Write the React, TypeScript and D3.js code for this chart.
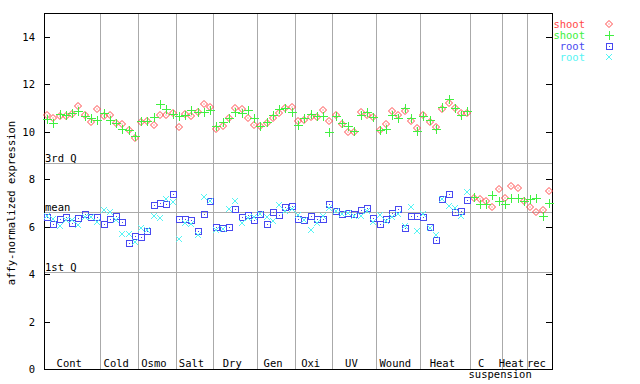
import React from "react";
import * as d3 from "d3";

const groups = ["Cont", "Cold", "Osmo", "Salt", "Dry", "Gen", "Oxi", "UV", "Wound", "Heat", "C suspension", "Heat", "rec"];
const groupSizes = [9, 6, 6, 6, 7, 6, 6, 7, 7, 8, 5, 4, 4];

const shoot1 = [
  10.72, 10.58, 10.66, 10.66, 10.75, 11.1, 10.69, 10.41, 10.97,
  10.66, 10.72, 10.38, 10.34, 10.07, 9.75,
  10.41, 10.46, 10.28, 10.72, 10.72, 10.79,
  10.2, 10.73, 10.66, 10.81, 11.17, 11.02,
  10.11, 10.22, 10.58, 11.01, 10.96, 10.58, 10.28,
  10.24, 10.38, 10.58, 10.77, 11.01, 11.05,
  10.46, 10.5, 10.62, 10.62, 10.91, 10.45,
  10.7, 10.32, 9.99, 9.99, 10.83, 10.7, 10.62,
  10.07, 10.32, 10.89, 10.72, 10.87, 10.45, 10.17,
  10.7, 10.41, 10.2, 10.97, 11.21, 11.0, 10.8, 10.8,
  7.21, 7.16, 7.08, 6.83, 7.59,
  7.21, 7.71, 7.63, 7.08,
  6.83, 6.62, 6.7, 7.5,
];
const shoot2 = [
  10.55, 10.37, 10.76, 10.72, 10.77, 10.89, 10.66, 10.59, 10.48,
  10.79, 10.5, 10.36, 10.11, 10.08, 9.8,
  10.46, 10.46, 10.63, 11.17, 10.96, 10.76,
  10.66, 10.69, 10.93, 10.84, 10.84, 10.9,
  10.25, 10.39, 10.58, 10.81, 10.77, 10.91, 10.58,
  10.22, 10.4, 10.69, 10.97, 11.01, 10.83,
  10.3, 10.58, 10.75, 10.66, 10.66, 9.99,
  10.66, 10.38, 10.22, 10.03, 10.7, 10.84, 10.62,
  10.07, 10.11, 10.72, 10.58, 11.01, 10.58, 10.03,
  10.66, 10.5, 10.11, 11.05, 11.38, 11.0, 10.7, 10.89,
  7.25, 6.95, 6.95, 7.33, 7.08,
  6.95, 7.21, 7.21, 7.08,
  7.16, 7.21, 6.45, 7.0,
];
const root1 = [
  6.41, 6.11, 6.32, 6.41, 6.15, 6.36, 6.53, 6.41, 6.41,
  6.11, 6.32, 6.45, 6.19, 5.31, 5.6,
  5.56, 5.82, 6.92, 7.0, 6.95, 7.37,
  6.32, 6.32, 6.28, 5.82, 6.53, 7.08,
  5.98, 5.94, 5.98, 6.74, 6.41, 6.49, 6.28,
  6.53, 6.11, 6.62, 6.49, 6.83, 6.87,
  6.32, 6.28, 6.45, 6.32, 6.32, 6.95,
  6.66, 6.53, 6.57, 6.53, 6.7, 6.78, 6.36,
  6.11, 6.32, 6.57, 6.74, 5.94, 6.45, 6.45,
  6.41, 5.98, 5.44, 7.16, 7.37, 6.62, 6.66, 7.12,
];
const root2 = [
  6.43, 6.33, 6.03, 6.28, 6.27, 6.07, 6.42, 6.41, 6.2,
  6.7, 6.62, 6.28, 5.69, 5.69, 5.35,
  5.94, 5.86, 6.45, 6.36, 7.16, 7.04,
  5.48, 6.15, 6.11, 5.65, 7.25, 7.08,
  5.86, 5.9, 6.74, 7.08, 6.15, 6.36, 6.41,
  6.53, 6.41, 6.24, 6.91, 6.66, 6.74,
  6.49, 6.28, 5.86, 6.15, 6.45, 6.78,
  6.66, 6.53, 6.57, 6.45, 6.45, 6.66, 6.19,
  6.49, 6.24, 6.41, 6.53, 6.03, 6.83, 5.82,
  6.53, 5.94, 5.65, 7.16, 6.87, 6.78, 6.45, 7.46,
];

const yTicks = [0, 2, 4, 6, 8, 10, 12, 14];
const refLines = [
  { label: "3rd Q", value: 8.68 },
  { label: "mean", value: 6.62 },
  { label: "1st Q", value: 4.09 },
];
const seriesNames = ["shoot", "shoot", "root", "root"];

const RED = "#ff4848";
const GREEN = "#40f040";
const BLUE = "#4848f0";
const CYAN = "#55f4f4";
const GRID = "#aaaaaa";
const FONT = "'DejaVu Sans Mono', monospace";

const W = 640, H = 384;
const L = 44, R = 552, T = 13, B = 369;

function Marker({ kind, x, y, color }: { kind: number; x: number; y: number; color: string }) {
  if (kind === 0) {
    return (
      <g>
        <path d={`M${x},${y - 3.5}L${x + 3.5},${y}L${x},${y + 3.5}L${x - 3.5},${y}Z`} fill="none" stroke={color} strokeWidth={1} />
        <rect x={x - 0.5} y={y - 0.5} width={1} height={1} fill={color} />
      </g>
    );
  }
  if (kind === 1) {
    return (
      <path d={`M${x - 4},${y + 0.5}H${x + 5}M${x + 0.5},${y - 4}V${y + 5}`} stroke={color} strokeWidth={1} fill="none" />
    );
  }
  if (kind === 2) {
    return (
      <g shapeRendering="crispEdges">
        <rect x={x - 2.5} y={y - 2.5} width={6} height={6} fill="none" stroke={color} strokeWidth={1} />
        <rect x={x} y={y} width={1} height={1} fill={color} />
      </g>
    );
  }
  return (
    <path d={`M${x - 3},${y - 3}L${x + 3},${y + 3}M${x - 3},${y + 3}L${x + 3},${y - 3}`} stroke={color} strokeWidth={1} fill="none" />
  );
}

export default function App() {
  const n = d3.sum(groupSizes);
  const x = d3.scaleBand<number>().domain(d3.range(n)).range([L, R]).paddingInner(0).paddingOuter(0);
  const y = d3.scaleLinear().domain([0, 15]).range([B, T]);
  const step = x.step();
  const cx = (i: number) => (x(i) as number) + step / 2;

  const starts: number[] = [];
  let acc = 0;
  groupSizes.forEach((s) => { starts.push(acc); acc += s; });

  const series = [shoot1, shoot2, root1, root2];
  const colors = [RED, GREEN, BLUE, CYAN];

  return (
    <svg width={W} height={H} style={{ position: "absolute", left: 0, top: 0, background: "#fff" }} fontFamily={FONT}>
      <rect x={0} y={0} width={W} height={H} fill="#fff" />
      {starts.slice(1).map((s, k) => (
        <line key={"d" + k} x1={Math.round(x(s) as number) + 0.5} x2={Math.round(x(s) as number) + 0.5} y1={T} y2={B} stroke={GRID} strokeWidth={1} />
      ))}
      {refLines.map((r) => (
        <g key={r.label}>
          <line x1={L} x2={R} y1={Math.round(y(r.value)) + 0.5} y2={Math.round(y(r.value)) + 0.5} stroke={GRID} strokeWidth={1} />
          <text x={L + 1} y={Math.round(y(r.value)) - 1} fontSize={10.5} fill="#000">{r.label}</text>
        </g>
      ))}
      <rect x={L + 0.5} y={T + 0.5} width={R - L} height={B - T} fill="none" stroke="#000" strokeWidth={1} />
      {yTicks.map((t) => (
        <g key={"t" + t}>
          <line x1={L} x2={L + 6} y1={Math.round(y(t)) + 0.5} y2={Math.round(y(t)) + 0.5} stroke="#000" />
          <line x1={R - 6} x2={R} y1={Math.round(y(t)) + 0.5} y2={Math.round(y(t)) + 0.5} stroke="#000" />
          <text x={35} y={y(t) + 4} textAnchor="end" fontSize={10.5} fill="#000">{t}</text>
        </g>
      ))}
      <text transform={`translate(15,${(T + B) / 2 + 12}) rotate(-90)`} textAnchor="middle" fontSize={10.5} fill="#000">affy-normalized expression</text>
      {groups.map((g, k) => {
        const x0 = x(starts[k]) as number;
        const x1 = x0 + groupSizes[k] * step;
        const mid = (x0 + x1) / 2 - 3;
        if (g === "C suspension") {
          return (
            <g key={"g" + k}>
              <text x={mid - 2} y={367} textAnchor="middle" fontSize={10.5} fill="#000">C</text>
              <text x={mid + 17} y={378} textAnchor="middle" fontSize={10.5} fill="#000">suspension</text>
            </g>
          );
        }
        return <text key={"g" + k} x={mid} y={367} textAnchor="middle" fontSize={10.5} fill="#000">{g}</text>;
      })}
      {series.map((s, si) => (
        <g key={"s" + si}>
          {s.map((v, i) => (v == null ? null : <Marker key={i} kind={si} x={Math.round(cx(i))} y={Math.round(y(v))} color={colors[si]} />))}
        </g>
      ))}
      {seriesNames.map((nm, k) => (
        <g key={"l" + k}>
          <text x={585} y={28 + k * 11} textAnchor="end" fontSize={10.5} fill={colors[k]}>{nm}</text>
          <Marker kind={k} x={609} y={24 + k * 11} color={colors[k]} />
        </g>
      ))}
    </svg>
  );
}
